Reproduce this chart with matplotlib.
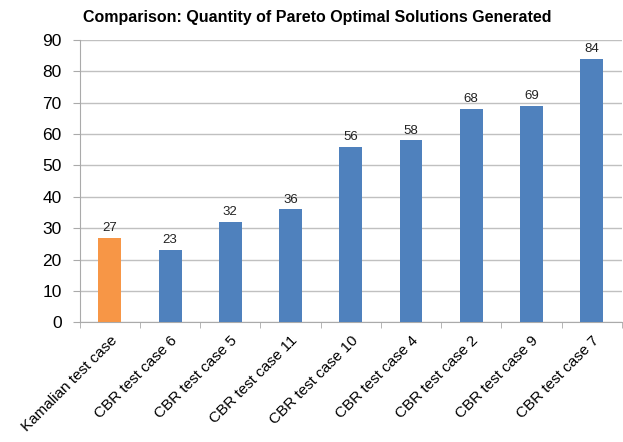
import matplotlib
matplotlib.use("Agg")
import matplotlib.pyplot as plt
import numpy as np

categories = ["Kamalian test case", "CBR test case 6", "CBR test case 5", "CBR test case 11",
              "CBR test case 10", "CBR test case 4", "CBR test case 2", "CBR test case 9",
              "CBR test case 7"]
values = [27, 23, 32, 36, 56, 58, 68, 69, 84]
colors = ["#F79646"] + ["#4F81BD"] * 8

plt.rcParams['font.family'] = ['Liberation Sans', 'DejaVu Sans']

fig = plt.figure(figsize=(6.23, 4.42), dpi=100)
ax = fig.add_axes([0.128, 0.2705, 0.870, 0.6395])

x = np.arange(len(categories))
bars = ax.bar(x, values, width=0.38, color=colors, zorder=3)
for xi, v in zip(x, values):
    ax.text(xi, v + 1.2, str(v), ha='center', va='bottom', fontsize=9.5, color='#222222')

ax.set_xlim(-0.5, len(categories) - 0.5)
ax.set_ylim(0, 90)
ax.set_yticks(range(0, 91, 10))
ax.yaxis.grid(True, color='#C0C0C0', linewidth=1, zorder=0)
ax.set_axisbelow(True)

ax.set_xticks(x)
ax.set_xticklabels(categories, rotation=45, ha='right', rotation_mode='anchor', fontsize=11)
ax.tick_params(axis='x', length=0, pad=8)
ax.set_xticks(np.arange(-0.5, len(categories), 1), minor=True)
ax.tick_params(axis='x', which='minor', length=4, color='#AAAAAA')
ax.tick_params(axis='y', length=5, color='#AAAAAA', labelsize=12.5, pad=8, direction='out')

for s in ['top', 'right']:
    ax.spines[s].set_visible(False)
for s in ['left', 'bottom']:
    ax.spines[s].set_color('#AAAAAA')

fig.suptitle("Comparison: Quantity of Pareto Optimal Solutions Generated",
             x=0.51, y=0.978, fontsize=11.5, fontweight='bold')

fig.savefig("out.png", dpi=100)
